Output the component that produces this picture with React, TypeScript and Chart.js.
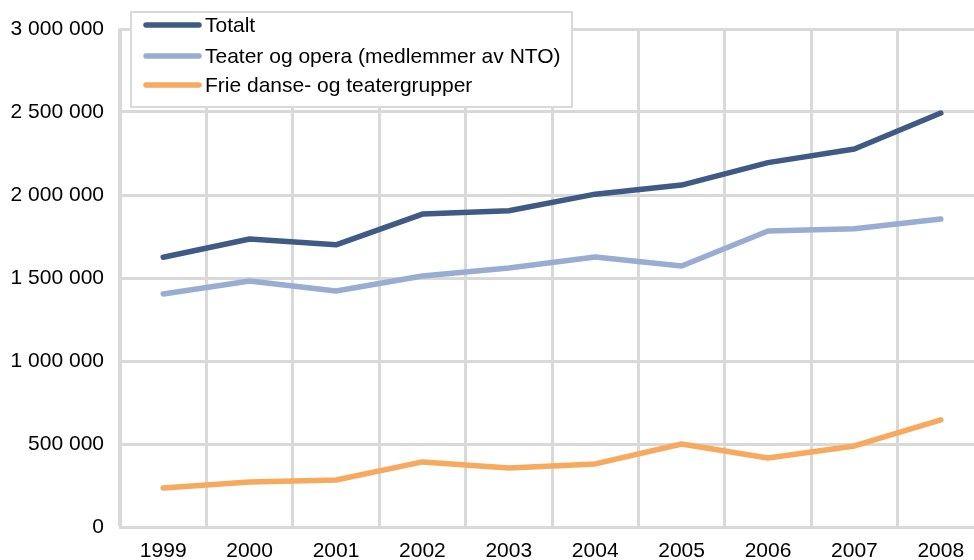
import React, { useEffect, useRef } from "react";
import { Chart, registerables } from "chart.js";

Chart.register(...registerables);

const years = ["1999", "2000", "2001", "2002", "2003", "2004", "2005", "2006", "2007", "2008"];
const totalt = [1625000, 1735000, 1700000, 1885000, 1905000, 2005000, 2060000, 2195000, 2277000, 2494000];
const teater = [1404000, 1482000, 1422000, 1512000, 1560000, 1626000, 1572000, 1783000, 1797000, 1855000];
const frie = [235000, 271000, 283000, 392000, 355000, 380000, 500000, 416000, 488000, 645000];
const seriesLabels = ["Totalt", "Teater og opera (medlemmer av NTO)", "Frie danse- og teatergrupper"];
const seriesColors = ["#3f5a85", "#98add1", "#f7a95e"];

const FONT = "'Liberation Sans', Arial, sans-serif";
const GRID = "#d9d9d9";

function fmt(v: number): string {
  return String(Math.round(v)).replace(/\B(?=(\d{3})+(?!\d))/g, " ");
}

const legendPlugin = {
  id: "floatLegend",
  afterDatasetsDraw(chart: any) {
    const ctx = chart.ctx as CanvasRenderingContext2D;
    ctx.save();
    const x0 = 131, y0 = 12, w = 441, h = 95;
    ctx.fillStyle = "#ffffff";
    ctx.fillRect(x0, y0, w, h);
    ctx.strokeStyle = GRID;
    ctx.lineWidth = 2;
    ctx.strokeRect(x0, y0, w, h);
    ctx.font = `21px ${FONT}`;
    ctx.textBaseline = "middle";
    ctx.fillStyle = "#000000";
    const rows = [25, 56, 85];
    chart.data.datasets.forEach((ds: any, i: number) => {
      const y = rows[i];
      ctx.strokeStyle = ds.borderColor;
      ctx.lineWidth = 5.5;
      ctx.lineCap = "round";
      ctx.beginPath();
      ctx.moveTo(146, y);
      ctx.lineTo(199, y);
      ctx.stroke();
      ctx.fillText(ds.label, 205, y + 1);
    });
    ctx.restore();
  },
};

export default function App() {
  const ref = useRef<HTMLCanvasElement>(null);
  useEffect(() => {
    if (!ref.current) return;
    const chart = new Chart(ref.current, {
      type: "line",
      data: {
        labels: years,
        datasets: [totalt, teater, frie].map((d, i) => ({
          label: seriesLabels[i],
          data: d,
          borderColor: seriesColors[i],
          backgroundColor: seriesColors[i],
          borderWidth: 5.5,
          pointRadius: 0,
          tension: 0,
          borderCapStyle: "round" as const,
          borderJoinStyle: "round" as const,
        })),
      },
      options: {
        animation: false,
        responsive: false,
        layout: { padding: { top: 29, right: 16, left: 0, bottom: 0 } },
        plugins: { legend: { display: false }, tooltip: { enabled: false } },
        scales: {
          x: {
            offset: true,
            grid: { offset: true, color: GRID, lineWidth: 3, drawTicks: false },
            border: { color: GRID, width: 3 },
            ticks: { color: "#000", font: { family: FONT, size: 21 }, padding: 12, maxRotation: 0 },
            afterFit: (s: any) => { s.height = 33; },
          },
          y: {
            min: 0,
            max: 3000000,
            grid: { color: GRID, lineWidth: 3, drawTicks: false },
            border: { color: GRID, width: 3 },
            ticks: {
              stepSize: 500000,
              color: "#000",
              font: { family: FONT, size: 21 },
              padding: 16,
              callback: (v: any) => fmt(Number(v)),
            },
            afterFit: (s: any) => { s.width = 120; },
          },
        },
      },
      plugins: [legendPlugin],
    });
    return () => chart.destroy();
  }, []);
  return (
    <div style={{ position: "fixed", left: 0, top: 0, width: 974, height: 560, overflow: "hidden", background: "#fff" }}>
      <canvas ref={ref} width={1000} height={560} style={{ display: "block" }} />
    </div>
  );
}
